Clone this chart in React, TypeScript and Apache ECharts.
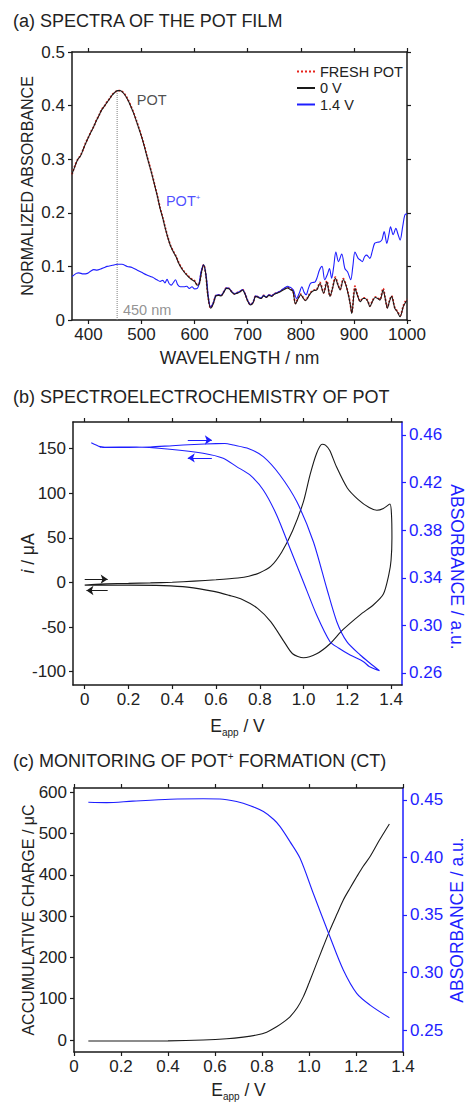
import React, { useEffect, useRef } from 'react';
import * as echarts from 'echarts';

const FONT = '"Liberation Sans", Arial, Helvetica, sans-serif';
const BLUE = '#1e1eff';
const BLACK = '#1a1a1a';
const RED = '#e8231c';
const GRAY = '#808080';

// ---------- (a) spectra ----------
const wavelength0V = [369,375,380,385,390,395,400,405,410,415,420,425,430,435,440,445,450,455,460,465,470,475,480,485,490,495,500,505,510,515,520,525,530,535,540,545,550,555,560,565,570,575,580,585,590,595,600,605,609,613,617,621,625,630,635,640,645,650,655,660,665,670,675,680,685,690,695,700,705,710,715,720,725,730,735,740,745,750,755,760,765,770,775,780,785,790,795,800,805,809,815,820,825,830,836,843,849,855,860,865,870,874,880,885,890,893,896,902,907,912,917,921,926,930,935,940,945,949,955,959,963,967,971,977,982,987,993,998,1000];
const abs0V = [0.272,0.288,0.300,0.306,0.318,0.330,0.341,0.351,0.361,0.372,0.382,0.392,0.399,0.406,0.413,0.420,0.425,0.428,0.428,0.424,0.418,0.409,0.398,0.386,0.372,0.357,0.342,0.325,0.306,0.288,0.270,0.250,0.230,0.208,0.190,0.170,0.152,0.137,0.127,0.118,0.106,0.097,0.090,0.084,0.079,0.075,0.072,0.065,0.068,0.090,0.103,0.085,0.045,0.022,0.030,0.045,0.046,0.045,0.052,0.059,0.058,0.052,0.048,0.050,0.052,0.056,0.048,0.035,0.028,0.032,0.044,0.042,0.040,0.045,0.042,0.046,0.044,0.048,0.050,0.052,0.055,0.058,0.060,0.057,0.054,0.030,0.040,0.047,0.040,0.036,0.045,0.052,0.055,0.056,0.068,0.050,0.071,0.044,0.060,0.078,0.065,0.056,0.075,0.065,0.045,0.030,0.012,0.059,0.045,0.034,0.040,0.040,0.035,0.025,0.035,0.042,0.040,0.037,0.056,0.040,0.022,0.035,0.044,0.022,0.015,0.006,0.025,0.034,0.036];
const absFresh = [0.272,0.289,0.300,0.307,0.318,0.331,0.341,0.352,0.361,0.373,0.382,0.393,0.399,0.407,0.413,0.421,0.425,0.428,0.428,0.425,0.419,0.410,0.399,0.387,0.373,0.358,0.343,0.326,0.307,0.289,0.271,0.251,0.231,0.209,0.191,0.171,0.153,0.138,0.128,0.119,0.107,0.098,0.091,0.085,0.080,0.076,0.073,0.066,0.069,0.091,0.103,0.085,0.046,0.023,0.031,0.046,0.047,0.046,0.053,0.060,0.059,0.053,0.049,0.051,0.053,0.057,0.049,0.036,0.029,0.033,0.045,0.043,0.041,0.046,0.043,0.047,0.045,0.049,0.051,0.053,0.056,0.059,0.061,0.058,0.055,0.031,0.041,0.048,0.041,0.037,0.046,0.053,0.056,0.057,0.070,0.051,0.073,0.045,0.061,0.080,0.066,0.057,0.077,0.066,0.046,0.031,0.014,0.063,0.046,0.035,0.041,0.041,0.036,0.026,0.036,0.043,0.041,0.038,0.059,0.041,0.023,0.036,0.045,0.023,0.016,0.008,0.026,0.037,0.039];
const wavelength14V = [369,377,382,390,398,404,410,416,423,430,435,445,454,463,473,482,492,500,510,520,529,535,540,544,548,552,556,560,564,568,573,580,585,590,595,600,605,608,612,617,622,626,630,635,640,645,650,655,660,665,670,675,680,685,690,695,700,705,710,715,720,725,730,735,740,745,750,755,760,765,770,775,777,782,786,792,797,802,806,810,814,818,822,827,831,835,840,845,850,854,858,862,866,871,877,883,888,894,898,902,908,912,916,920,924,930,935,939,944,949,953,957,962,966,969,974,979,983,987,992,996,1000];
const abs14V = [0.081,0.087,0.088,0.086,0.087,0.091,0.094,0.093,0.095,0.098,0.100,0.102,0.104,0.104,0.100,0.098,0.093,0.089,0.084,0.080,0.075,0.072,0.074,0.069,0.076,0.068,0.065,0.070,0.075,0.066,0.062,0.062,0.063,0.059,0.062,0.058,0.059,0.066,0.090,0.103,0.080,0.042,0.024,0.032,0.046,0.047,0.046,0.053,0.060,0.059,0.053,0.049,0.051,0.053,0.057,0.049,0.036,0.029,0.033,0.045,0.043,0.041,0.046,0.043,0.047,0.045,0.049,0.051,0.053,0.057,0.060,0.063,0.062,0.060,0.056,0.040,0.050,0.062,0.052,0.047,0.058,0.068,0.070,0.071,0.080,0.093,0.100,0.075,0.085,0.096,0.078,0.100,0.127,0.109,0.123,0.096,0.090,0.075,0.100,0.127,0.115,0.112,0.109,0.118,0.121,0.115,0.130,0.143,0.145,0.146,0.150,0.165,0.143,0.160,0.174,0.159,0.171,0.160,0.149,0.175,0.196,0.198];
const peakWavelength = [454, 454];
const peakLine = [0, 0.428];
const wavelengthTicks = [400, 500, 600, 700, 800, 900, 1000];
const absTicksA = [0, 0.1, 0.2, 0.3, 0.4, 0.5];

// ---------- (b) spectroelectrochemistry ----------
const cvPotential = [0,0.05,0.1,0.2,0.3,0.4,0.5,0.6,0.7,0.75,0.8,0.85,0.9,0.95,1.0,1.03,1.06,1.085,1.1,1.12,1.15,1.2,1.25,1.3,1.335,1.365,1.395,1.402,1.404,1.4,1.39,1.365,1.32,1.26,1.18,1.12,1.06,1.0,0.95,0.91,0.85,0.79,0.72,0.66,0.59,0.47,0.36,0.2,0];
const cvCurrent = [-3,-2,-1.5,-1,-0.5,0.2,1.5,3,5,7,11,18,34,58,91,121,145,155,154,148,130,106,93,84,81,83,88,76,50,25,9,-13,-25,-36,-53,-69,-80,-84.5,-80,-66,-44,-29,-19,-14.5,-10,-5.2,-3.5,-3,-3];
const sabsPotential = [0.03,0.07,0.1,0.2,0.3,0.4,0.5,0.6,0.64,0.68,0.75,0.816,0.892,0.969,1.045,1.106,1.152,1.198,1.259,1.304,1.347,1.30,1.274,1.213,1.16,1.121,1.06,0.999,0.938,0.877,0.816,0.755,0.694,0.633,0.541,0.389,0.236,0.069];
const sabsValue = [0.4535,0.4502,0.4495,0.4495,0.4499,0.4510,0.4520,0.4527,0.4528,0.4515,0.4485,0.4418,0.4264,0.4040,0.3703,0.3312,0.3031,0.2863,0.2751,0.2682,0.2619,0.2655,0.2695,0.2751,0.2810,0.2863,0.3087,0.3367,0.3648,0.3928,0.4138,0.4264,0.4334,0.4404,0.4446,0.4480,0.4499,0.4497];
const eTicks = [0, 0.2, 0.4, 0.6, 0.8, 1.0, 1.2, 1.4];
const currentTicks = [-100, -50, 0, 50, 100, 150];
const absTicksB = [0.26, 0.30, 0.34, 0.38, 0.42, 0.46];

// ---------- (c) chronoamperometry ----------
const ctPotential = [0.061,0.2,0.4,0.55,0.65,0.72,0.777,0.82,0.862,0.9,0.919,0.95,0.976,1.0,1.033,1.06,1.089,1.12,1.146,1.175,1.203,1.23,1.26,1.3,1.342];
const ctCharge = [-2.4,-2.4,-2,0,3,7,12,19,32,47,56,78,105,138,186,225,266,306,339,368,395,420,444,484,523];
const ctAbsPotential = [0.061,0.139,0.25,0.409,0.55,0.621,0.692,0.75,0.806,0.85,0.877,0.919,0.962,1.018,1.089,1.146,1.203,1.26,1.342];
const ctAbs = [0.448,0.4477,0.449,0.4506,0.451,0.4509,0.4486,0.445,0.4399,0.433,0.4268,0.4138,0.3993,0.3689,0.3311,0.3022,0.2819,0.2717,0.2607];
const chargeTicks = [0, 100, 200, 300, 400, 500, 600];
const absTicksC = [0.25, 0.30, 0.35, 0.40, 0.45];

const zip = (xs: number[], ys: number[]) => xs.map((x, i) => [x, ys[i]]);

const TICK_FS = 17;

function xAxisBottom(grid: number, min: number, max: number, ticks: number[], fmt: (v: number) => string, name: any, nameGap: number, rich?: any) {
  return {
    type: 'value', gridIndex: grid, position: 'bottom', min, max,
    axisLine: { show: true, onZero: false, lineStyle: { color: BLACK, width: 1.5 } },
    axisTick: { show: true, length: 4, lineStyle: { color: BLACK, width: 1.2 }, customValues: ticks },
    axisLabel: { show: true, margin: 6, customValues: ticks, formatter: fmt, color: '#222', fontSize: TICK_FS, fontFamily: FONT },
    splitLine: { show: false },
    name, nameLocation: 'middle', nameGap, nameMoveOverlap: false,
    nameTextStyle: { color: '#222', fontSize: 17.5, fontFamily: FONT, rich },
  };
}
function xAxisTop(grid: number, min: number, max: number, ticks: number[]) {
  return {
    type: 'value', gridIndex: grid, position: 'top', min, max,
    axisLine: { show: true, onZero: false, lineStyle: { color: BLACK, width: 1.5 } },
    axisTick: { show: true, length: 4, lineStyle: { color: BLACK, width: 1.2 }, customValues: ticks },
    axisLabel: { show: false },
    splitLine: { show: false },
  };
}
function yAxisSide(grid: number, pos: 'left' | 'right', min: number, max: number, ticks: number[], color: string, fmt: ((v: number) => string) | null, name?: any, nameGap?: number, nameFs?: number, rich?: any) {
  return {
    type: 'value', gridIndex: grid, position: pos, min, max,
    axisLine: { show: true, onZero: false, lineStyle: { color, width: 1.5 } },
    axisTick: { show: true, length: 4, lineStyle: { color, width: 1.2 }, customValues: ticks },
    axisLabel: fmt ? { show: true, margin: 7, customValues: ticks, formatter: fmt, color: color === BLACK ? '#222' : color, fontSize: TICK_FS, fontFamily: FONT } : { show: false },
    splitLine: { show: false },
    name: name || '', nameLocation: 'middle', nameGap: nameGap || 0, nameMoveOverlap: false,
    nameTextStyle: { color: color === BLACK ? '#222' : color, fontSize: nameFs || 16, fontFamily: FONT, rich },
  };
}

const fmtE = (v: number) => (Math.abs(v) < 1e-9 ? '0' : v.toFixed(1));
const fmt1 = (v: number) => (Math.abs(v) < 1e-9 ? '0' : String(Math.round(v * 10) / 10));
const fmt2 = (v: number) => v.toFixed(2);
const fmtInt = (v: number) => String(Math.round(v));

const eappRich = {
  e: { fontSize: 17.5, fontFamily: FONT, color: '#222', lineHeight: 22 },
  s: { fontSize: 10, fontFamily: FONT, color: '#222', verticalAlign: 'bottom', lineHeight: 22 },
};

function labelSeries(xi: number, yi: number, pt: number[], text: string, color: string, fs: number, rich?: any) {
  return {
    type: 'scatter', xAxisIndex: xi, yAxisIndex: yi, silent: true, symbolSize: 1,
    itemStyle: { color: 'rgba(0,0,0,0)' }, z: 5,
    data: [pt],
    label: { show: true, position: 'right', distance: 0, formatter: text, color, fontSize: fs, fontFamily: FONT, rich },
  };
}

function arrowMark(pairs: number[][][], color: string) {
  return {
    silent: true, symbol: ['none', 'arrow'], symbolSize: 7, label: { show: false },
    lineStyle: { color, width: 1, type: 'solid' },
    emphasis: { disabled: true },
    data: pairs.map(([a, b]) => [{ coord: a }, { coord: b }]),
  };
}

export default function App() {
  const ref = useRef<HTMLDivElement>(null);
  useEffect(() => {
    if (!ref.current) return;
    const chart = echarts.init(ref.current, undefined, { renderer: 'svg' });
    const option: any = {
      animation: false,
      backgroundColor: '#fff',
      textStyle: { fontFamily: FONT },
      grid: [
        { left: 72, top: 52, width: 335, height: 268, outerBoundsMode: 'none', containLabel: false },
        { left: 73, top: 422, width: 329, height: 263, outerBoundsMode: 'none', containLabel: false },
        { left: 74, top: 788, width: 329, height: 264, outerBoundsMode: 'none', containLabel: false },
      ],
      legend: {
        data: ['FRESH POT', '0 V', '1.4 V'],
        orient: 'vertical', left: 291, top: 59, itemWidth: 18, itemHeight: 12, itemGap: 1.5,
        itemStyle: { opacity: 0 },
        textStyle: { fontSize: 14.5, fontFamily: FONT, color: '#222' },
        selectedMode: false,
      },
      graphic: [
        { type: 'text', left: 13, top: 12, style: { text: '(a) SPECTRA OF THE POT FILM', fontSize: 18, fontFamily: FONT, fill: '#222' } },
        { type: 'text', left: 13, top: 388, style: { text: '(b) SPECTROELECTROCHEMISTRY OF POT', fontSize: 18, fontFamily: FONT, fill: '#222' } },
        { type: 'text', left: 13, top: 751, style: {
          text: '{a|(c) MONITORING OF POT}{s|+}{a| FORMATION (CT)}', fill: '#222',
          rich: {
            a: { fontSize: 18, fontFamily: FONT, fill: '#222', lineHeight: 20 },
            s: { fontSize: 10, fontFamily: FONT, fill: '#222', verticalAlign: 'top', lineHeight: 20 },
          } } },
        { type: 'text', x: 457, y: 567, rotation: -Math.PI / 2, style: {
          text: 'ABSORBANCE / a.u.', fontSize: 17.5, fontFamily: FONT, fill: BLUE, align: 'center', verticalAlign: 'middle' } },
      ],
      xAxis: [
        xAxisBottom(0, 369, 1000, wavelengthTicks, (v: number) => String(v), 'WAVELENGTH / nm', 29),
        xAxisTop(0, 369, 1000, wavelengthTicks),
        xAxisBottom(1, -0.0535, 1.45, eTicks, fmtE, '{e|E}{s|app}{e| / V}', 30, eappRich),
        xAxisTop(1, -0.0535, 1.45, eTicks),
        xAxisBottom(2, 0, 1.4, eTicks, fmtE, '{e|E}{s|app}{e| / V}', 27, eappRich),
        xAxisTop(2, 0, 1.4, eTicks),
      ],
      yAxis: [
        yAxisSide(0, 'left', 0, 0.5, absTicksA, BLACK, fmt1, 'NORMALIZED ABSORBANCE', 37, 16),
        yAxisSide(0, 'right', 0, 0.5, absTicksA, BLACK, null),
        yAxisSide(1, 'left', -115, 180, currentTicks, BLACK, fmtInt, '{i|i}{n| / μA}', 36, 17.5, {
          i: { fontStyle: 'italic', fontSize: 17.5, fontFamily: FONT, color: '#222' },
          n: { fontSize: 17.5, fontFamily: FONT, color: '#222' },
        }),
        yAxisSide(1, 'right', 0.2499, 0.4709, absTicksB, BLUE, fmt2),
        yAxisSide(2, 'left', -29, 610, chargeTicks, BLACK, fmtInt, 'ACCUMULATIVE CHARGE / μC', 38, 16),
        yAxisSide(2, 'right', 0.2309, 0.4604, absTicksC, BLUE, fmt2, 'ABSORBANCE / a.u.', 45, 17.5),
      ],
      series: [
        {
          name: 'FRESH POT', type: 'line', xAxisIndex: 0, yAxisIndex: 0, showSymbol: false, symbol: 'none', smooth: 0.3,
          lineStyle: { color: RED, width: 1.8, type: 'dotted' }, itemStyle: { color: RED },
          data: zip(wavelength0V, absFresh), z: 2,
        },
        {
          name: '0 V', type: 'line', xAxisIndex: 0, yAxisIndex: 0, showSymbol: false, symbol: 'none', smooth: 0.3,
          lineStyle: { color: BLACK, width: 1.1 }, itemStyle: { color: BLACK },
          data: zip(wavelength0V, abs0V), z: 3,
        },
        {
          name: '1.4 V', type: 'line', xAxisIndex: 0, yAxisIndex: 0, showSymbol: false, symbol: 'none', smooth: 0.3,
          lineStyle: { color: BLUE, width: 1.1 }, itemStyle: { color: BLUE },
          data: zip(wavelength14V, abs14V), z: 2,
        },
        {
          name: 'peak', type: 'line', xAxisIndex: 0, yAxisIndex: 0, showSymbol: false, symbol: 'none', silent: true,
          lineStyle: { color: GRAY, width: 1, type: 'dotted' }, data: zip(peakWavelength, peakLine), z: 1,
        },
        labelSeries(0, 0, [490, 0.41], 'POT', '#222', 14.5),
        labelSeries(0, 0, [545, 0.222], '{a|POT}{b|+}', BLUE, 14.5, {
          a: { fontSize: 14.5, fontFamily: FONT, color: BLUE, lineHeight: 16 },
          b: { fontSize: 8, fontFamily: FONT, color: BLUE, verticalAlign: 'top', lineHeight: 16 },
        }),
        labelSeries(0, 0, [464, 0.0187], '450 nm', '#777', 14.5),
        {
          name: 'CV', type: 'line', xAxisIndex: 2, yAxisIndex: 2, showSymbol: false, symbol: 'none', smooth: 0.25,
          lineStyle: { color: BLACK, width: 1.1 }, data: zip(cvPotential, cvCurrent),
          markLine: arrowMark([[[0, 3.7], [0.105, 3.7]], [[0.105, -9], [0.008, -9]]], BLACK),
        },
        {
          name: 'ABS-b', type: 'line', xAxisIndex: 2, yAxisIndex: 3, showSymbol: false, symbol: 'none', smooth: 0.25,
          lineStyle: { color: BLUE, width: 1.1 }, data: zip(sabsPotential, sabsValue),
          markLine: arrowMark([[[0.471, 0.4558], [0.581, 0.4558]], [[0.581, 0.4407], [0.471, 0.4407]]], BLUE),
        },
        {
          name: 'Q', type: 'line', xAxisIndex: 4, yAxisIndex: 4, showSymbol: false, symbol: 'none', smooth: 0.3,
          lineStyle: { color: BLACK, width: 1.1 }, data: zip(ctPotential, ctCharge),
        },
        {
          name: 'ABS-c', type: 'line', xAxisIndex: 4, yAxisIndex: 5, showSymbol: false, symbol: 'none', smooth: 0.3,
          lineStyle: { color: BLUE, width: 1.1 }, data: zip(ctAbsPotential, ctAbs),
        },
      ],
    };
    chart.setOption(option);
    return () => chart.dispose();
  }, []);
  return <div ref={ref} style={{ position: 'absolute', left: 0, top: 0, width: 466, height: 1102, background: '#fff' }} />;
}
